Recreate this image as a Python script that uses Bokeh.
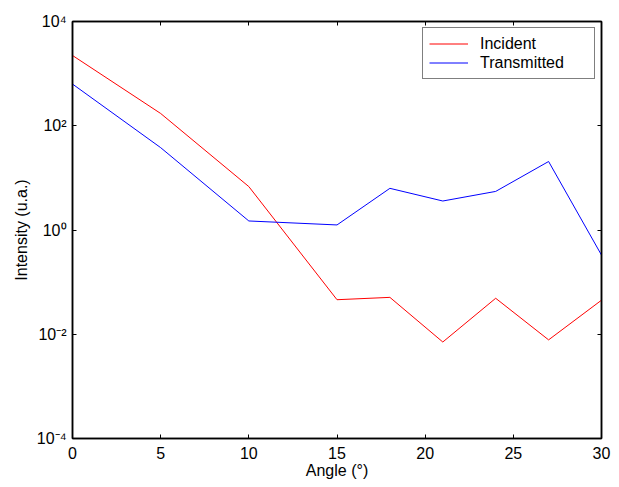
from bokeh.plotting import figure
from bokeh.models import LinearAxis, LogAxis, FixedTicker, Range1d, Legend, LegendItem
from bokeh.embed import file_html
from bokeh.resources import INLINE

angle = [0, 5, 10, 15, 18, 21, 24, 27, 30]
incident = [2230, 172, 6.8, 0.046, 0.051, 0.0071, 0.049, 0.0078, 0.045]
transmitted = [631, 38, 1.49, 1.25, 6.3, 3.6, 5.5, 20.6, 0.33]
x_ticks = [0, 5, 10, 15, 20, 25, 30]
y_ticks = [1e-4, 1e-2, 1.0, 1e2, 1e4]
y_tick_labels = ["10\u207b\u2074", "10\u207b\u00b2", "10\u2070", "10\u00b2", "10\u2074"]

FONT = "Liberation Sans"

p = figure(width=611, height=487, output_backend="svg", toolbar_location=None,
           y_axis_type="log", x_range=Range1d(0, 30), y_range=Range1d(1e-4, 1e4),
           min_border_left=72, min_border_right=10, min_border_top=21, min_border_bottom=49)
p.xgrid.visible = False
p.ygrid.visible = False
p.outline_line_color = "black"
p.outline_line_width = 1.5

r1 = p.line(angle, incident, line_color="#ff0000", line_width=1)
r2 = p.line(angle, transmitted, line_color="#0000ff", line_width=1)

def style(ax, labels=True):
    ax.axis_line_color = "black"
    ax.axis_line_width = 1.5
    ax.major_tick_in = 4
    ax.major_tick_out = 0
    ax.minor_tick_in = 0
    ax.minor_tick_out = 0
    ax.major_tick_line_color = "black"
    ax.major_tick_line_width = 1
    ax.major_label_text_font = FONT
    ax.major_label_text_font_size = "16px" if labels else "1px"
    ax.major_label_text_color = "black"
    if not labels:
        ax.major_label_text_alpha = 0
    ax.axis_label_text_font = FONT
    ax.axis_label_text_font_size = "16px"
    ax.axis_label_text_font_style = "normal"
    ax.axis_label_text_color = "black"

xa = p.xaxis[0]
xa.ticker = FixedTicker(ticks=x_ticks)
xa.axis_label = "Angle (\u00b0)"
style(xa)
xa.major_label_standoff = 8
xa.axis_label_standoff = 0

ya = p.yaxis[0]
ya.ticker = FixedTicker(ticks=y_ticks)
ya.major_label_overrides = {t: l for t, l in zip(y_ticks, y_tick_labels)}
ya.axis_label = "Intensity (u.a.)"
style(ya)
ya.major_label_standoff = 6
ya.axis_label_standoff = 4

top = LinearAxis(ticker=FixedTicker(ticks=x_ticks))
style(top, labels=False)
top.major_label_standoff = 0
p.add_layout(top, "above")

right = LogAxis(ticker=FixedTicker(ticks=y_ticks))
style(right, labels=False)
right.major_label_standoff = 0
p.add_layout(right, "right")

legend = Legend(items=[LegendItem(label="Incident", renderers=[r1]),
                       LegendItem(label="Transmitted", renderers=[r2])],
                location="top_right")
legend.margin = 6
legend.padding = 6
legend.spacing = 0
legend.glyph_width = 39
legend.glyph_height = 19
legend.label_height = 19
legend.label_width = 108
legend.label_standoff = 12
legend.label_text_font = FONT
legend.label_text_font_size = "16px"
legend.label_text_color = "black"
legend.border_line_color = "black"
legend.border_line_width = 1.5
legend.background_fill_color = "white"
legend.background_fill_alpha = 1
p.add_layout(legend, "center")

open("out.html", "w").write(file_html(p, INLINE))
